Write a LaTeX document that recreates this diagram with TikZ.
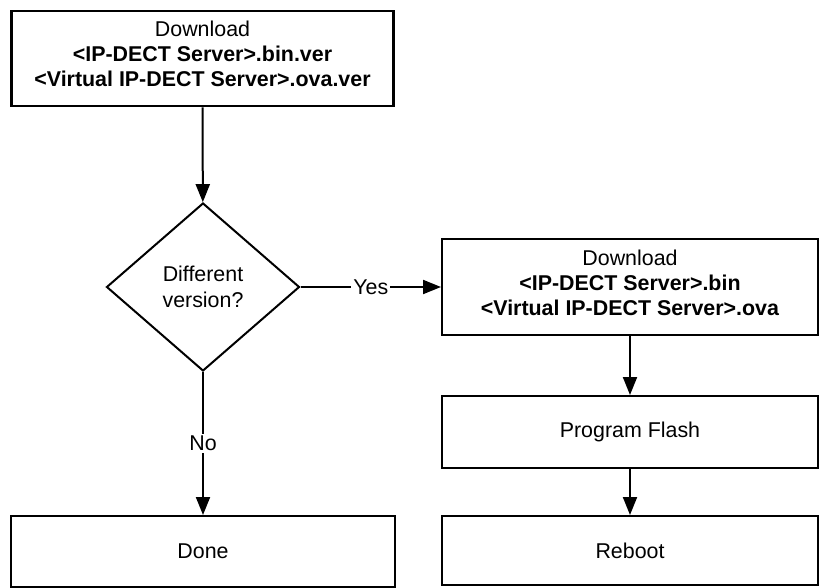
\documentclass[tikz,border=0pt]{standalone}
\usepackage{fontspec}
\setmainfont{Liberation Sans}
\usetikzlibrary{arrows.meta,positioning,shapes.geometric}

\begin{document}
\begin{tikzpicture}[x=0.5pt,y=-0.5pt]

  % Parameters
  \def\wbox{188pt}
  \def\wleft{191pt}

  % Styles
  \tikzstyle{stepbox}=[draw,line width=1pt,text centered,align=center,inner sep=2pt,
    font=\fontsize{10.7}{12.5}\selectfont]
  \tikzstyle{decide}=[draw,line width=1pt,diamond,align=center,inner sep=0pt,
    minimum width=96.5pt,minimum height=84pt,font=\fontsize{10.7}{13}\selectfont]
  \tikzstyle{to}=[-{Triangle[length=9pt,width=7pt]},line width=1pt]
  \tikzstyle{lbl}=[fill=white,inner sep=1pt,font=\fontsize{10.7}{12.5}\selectfont]

  \useasboundingbox (0,0) rectangle (819,588);

  % Left column
  \node[stepbox,line width=1.3pt,minimum width=\wleft,minimum height=47.5pt] (dlver) at (202.5,58.5)
    {Download\\\textbf{<IP-DECT Server>.bin.ver}\\\textbf{<Virtual IP-DECT Server>.ova.ver}\\[-8pt]\mbox{}};
  \node[decide] (check) at (203,287) {Different\\version?};
  \node[stepbox,minimum width=192pt,minimum height=35.5pt] (done) at (203,551.5) {Done};

  % Right column
  \node[stepbox,minimum width=\wbox,minimum height=48pt] (dlimg) at (630,287)
    {Download\\\textbf{<IP-DECT Server>.bin}\\\textbf{<Virtual IP-DECT Server>.ova}\\[-8pt]\mbox{}};
  \node[stepbox,minimum width=\wbox,minimum height=36pt,below=29.5pt of dlimg] (flash) {Program Flash};
  \node[stepbox,minimum width=\wbox,minimum height=34.5pt,below=23pt of flash] (reboot) {Reboot};

  % Connectors
  \draw[to] (dlver) -- (check);
  \draw[to] (check.east) -- node[lbl] {Yes} (dlimg.west);
  \draw[to] (check.south) -- node[lbl] {No} (done.north);
  \draw[to] (dlimg) -- (flash);
  \draw[to] (flash) -- (reboot);

\end{tikzpicture}
\end{document}
